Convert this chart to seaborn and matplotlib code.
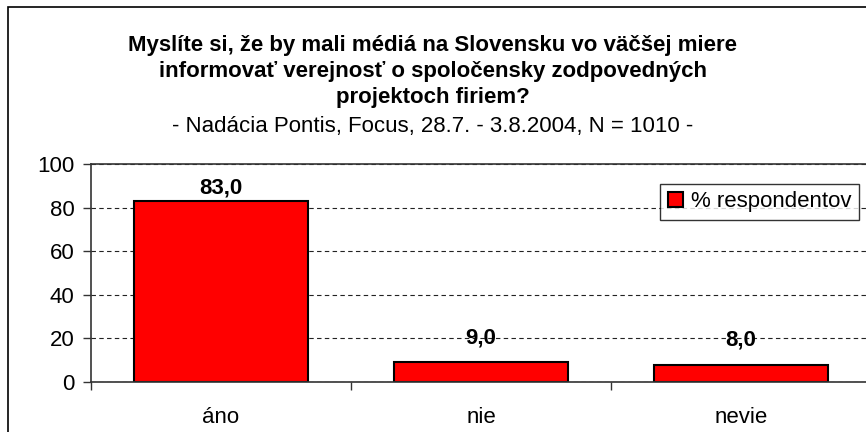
import matplotlib
matplotlib.use("Agg")
import matplotlib.pyplot as plt
import matplotlib.patches as patches
import seaborn as sns

# data
categories = ["áno", "nie", "nevie"]
values = [83.0, 9.0, 8.0]
series_name = "% respondentov"
y_ticks = [0, 20, 40, 60, 80, 100]

title_lines = ["Myslíte si, že by mali médiá na Slovensku vo väčšej miere",
               "informovať verejnosť o spoločensky zodpovedných",
               "projektoch firiem?"]
subtitle = "- Nadácia Pontis, Focus, 28.7. - 3.8.2004, N = 1010 -"

sns.set_style("white")
plt.rcParams['font.family'] = ['Liberation Sans', 'DejaVu Sans']
plt.rcParams['text.color'] = 'black'
plt.rcParams['xtick.labelcolor'] = 'black'
plt.rcParams['ytick.labelcolor'] = 'black'

W, H = 866, 432
fig = plt.figure(figsize=(W / 100, H / 100), dpi=100)

# outer chart border (the picture is a crop, right/bottom edges are outside)
fig.patches.append(patches.Rectangle((8 / W, -0.2), 2, 1.2 - 7 / H,
                                     transform=fig.transFigure, fill=False,
                                     edgecolor='black', linewidth=1.2))

ax = fig.add_axes([91 / W, 50 / H, 780 / W, 218 / H])

sns.barplot(x=categories, y=values, color='#ff0000', saturation=1,
            edgecolor='black', linewidth=1.5, width=0.67,
            label=series_name, ax=ax)

ax.set_xlim(-0.5, 2.5)
ax.set_ylim(0, 100)
ax.set_yticks(y_ticks)
ax.set_xlabel("")
ax.set_ylabel("")

# dashed gridlines
ax.yaxis.grid(True, linestyle=(0, (4, 3)), color='#222222', linewidth=0.8)
ax.set_axisbelow(True)

for side in ['left', 'bottom', 'top']:
    ax.spines[side].set_visible(True)
    ax.spines[side].set_color('#333333')
    ax.spines[side].set_linewidth(1.2)
ax.spines['right'].set_visible(False)

ax.tick_params(axis='y', which='major', direction='out', length=6, width=1,
               color='#333333', labelsize=16, pad=6, left=True,
               labelcolor='black')
ax.set_xticks([-0.5, 0.5, 1.5, 2.5], minor=True)
ax.tick_params(axis='x', which='minor', direction='out', length=6, width=1,
               color='#333333', bottom=True)
ax.tick_params(axis='x', which='major', length=0, labelsize=16, pad=18,
               labelcolor='black')

# value labels
label_pad = [2, 10, 10]
for i, v in enumerate(values):
    ax.annotate(f"{v:.1f}".replace(".", ","), (i, v),
                xytext=(0, label_pad[i]), textcoords='offset points',
                ha='center', va='bottom', fontsize=16, fontweight='bold',
                color='black')

leg = ax.legend(loc='upper right', bbox_to_anchor=(0.985, 0.91),
                fontsize=16, frameon=True, fancybox=False,
                handlelength=0.7, handleheight=0.7, handletextpad=0.35,
                borderpad=0.35, borderaxespad=0)
leg.get_frame().set_edgecolor('black')
leg.get_frame().set_linewidth(1.0)
for t in leg.get_texts():
    t.set_color('black')

title_y = [45, 72, 98]
for line, y in zip(title_lines, title_y):
    fig.text(0.5, 1 - y / H, line, ha='center', va='center',
             fontsize=16, fontweight='bold', color='black')
fig.text(0.5, 1 - 126 / H, subtitle, ha='center', va='center', fontsize=16,
         color='black')

fig.savefig("out.png", dpi=100)
